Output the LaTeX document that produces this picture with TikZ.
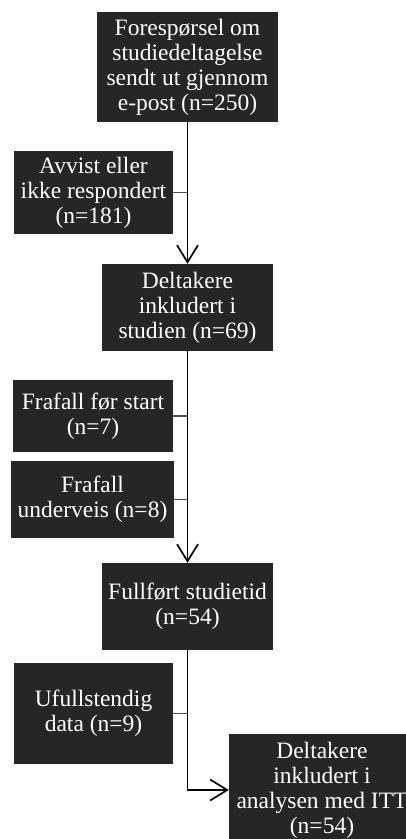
\documentclass[tikz,border=0pt]{standalone}
\usepackage{fontspec}
\setmainfont{Liberation Serif}
\usetikzlibrary{arrows.meta}
\definecolor{boxgray}{HTML}{262626}
\definecolor{slate}{HTML}{44546A}
\begin{document}
\begin{tikzpicture}
    [
    x=1pt, y=-1pt,
    box/.style={rectangle,fill=boxgray,text=white,inner sep=0pt,align=center,font=\fontsize{23.5}{25}\selectfont},
    flow/.style={line width=1.7pt,-{Straight Barb[length=17pt,width=21pt]}},
    side/.style={line width=1.6pt,draw=slate}
    ]
    \useasboundingbox (0,0) rectangle (406,839);
    \node (request) at (187.5,67) [box,minimum width=181pt,minimum height=110pt] {Forespørsel om\\studiedeltagelse\\sendt ut gjennom\\e-post (n=250)};
    \node (declined) at (93.5,192.5) [box,minimum width=159pt,minimum height=83pt] {Avvist eller\\ikke respondert\\(n=181)};
    \node (included) at (187.5,307.5) [box,minimum width=171pt,minimum height=87pt] {Deltakere\\inkludert i\\studien (n=69)};
    \node (dropstart) at (93,416) [box,minimum width=160pt,minimum height=72pt] {Frafall før start\\(n=7)};
    \node (dropduring) at (92.5,499.5) [box,minimum width=163pt,minimum height=77pt] {Frafall\\underveis (n=8)};
    \node (completed) at (187.5,606.5) [box,minimum width=171pt,minimum height=87pt] {Fullført studietid\\(n=54)};
    \node (incomplete) at (93.5,713.5) [box,minimum width=159pt,minimum height=101pt] {Ufullstendig\\data (n=9)};
    \node (itt) at (322,790) [box,minimum width=186pt,minimum height=112pt] {Deltakere\\inkludert i\\analysen med ITT\\(n=54)};
    \draw [side] (declined.east) -- (declined.east -| request.south);
    \draw [side] (dropstart.east) -- (dropstart.east -| included.south);
    \draw [side] (dropduring.east) -- (dropduring.east -| included.south);
    \draw [side] (incomplete.east) -- (incomplete.east -| completed.south);
    \draw [flow] (request.south) -- (included.north);
    \draw [flow] (included.south) -- (completed.north);
    \draw [flow] (completed.south) |- (itt.west);
  \end{tikzpicture}
\end{document}
